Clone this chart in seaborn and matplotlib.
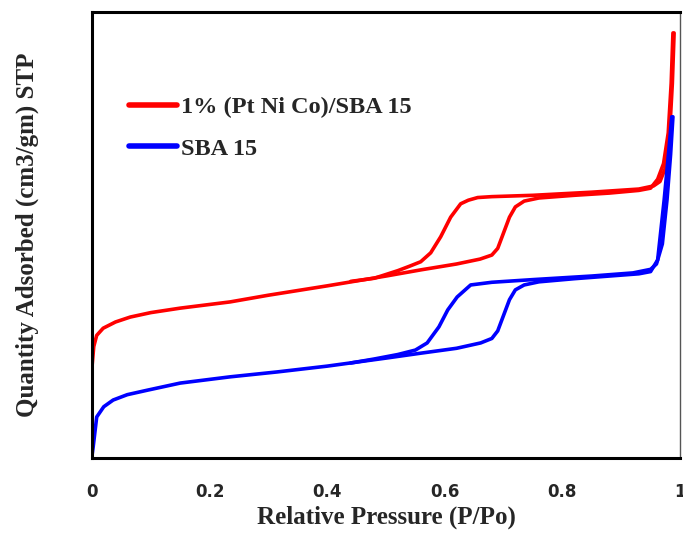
import matplotlib
matplotlib.use("Agg")
import matplotlib.pyplot as plt
import pandas as pd
import seaborn as sns

# Relative pressure / quantity adsorbed (arbitrary units)
red_ads_p = [0.0, 0.003, 0.008, 0.019, 0.04, 0.065, 0.1, 0.15, 0.235, 0.3, 0.4, 0.5,
             0.56, 0.62, 0.66, 0.68, 0.69, 0.70, 0.71, 0.72, 0.735, 0.76, 0.82, 0.88,
             0.93, 0.95, 0.962, 0.972, 0.98, 0.985, 0.988]
red_ads_q = [20.4, 25.0, 27.5, 29.1, 30.5, 31.6, 32.6, 33.6, 35.0, 36.5, 38.6, 40.8,
             42.2, 43.5, 44.6, 45.5, 47.0, 50.5, 54.0, 56.3, 57.6, 58.3, 58.9, 59.4,
             60.0, 60.5, 62.5, 66.0, 72.9, 84.0, 95.3]
red_des_p = [0.99, 0.987, 0.982, 0.975, 0.966, 0.955, 0.93, 0.85, 0.75, 0.68, 0.656,
             0.64, 0.627, 0.61, 0.593, 0.576, 0.559, 0.54, 0.52, 0.48, 0.44]
red_des_q = [95.3, 84.0, 72.0, 65.0, 62.0, 61.0, 60.3, 59.6, 58.9, 58.6, 58.4,
             57.8, 57.0, 54.0, 49.6, 46.0, 44.0, 43.0, 42.0, 40.3, 39.6]

blue_ads_p = [0.0, 0.002, 0.008, 0.02, 0.036, 0.06, 0.094, 0.15, 0.235, 0.315, 0.4,
              0.5, 0.559, 0.62, 0.661, 0.68, 0.69, 0.70, 0.71, 0.72, 0.735, 0.76,
              0.82, 0.88, 0.93, 0.95, 0.962, 0.973, 0.981, 0.986]
blue_ads_q = [0.5, 2.5, 9.2, 11.5, 13.0, 14.2, 15.2, 16.8, 18.2, 19.3, 20.6,
              22.4, 23.5, 24.6, 25.8, 26.8, 28.5, 32.0, 35.5, 37.7, 38.8, 39.5,
              40.2, 40.8, 41.3, 41.8, 44.4, 57.8, 69.0, 76.5]
blue_des_p = [0.988, 0.984, 0.978, 0.97, 0.96, 0.95, 0.92, 0.85, 0.75, 0.68, 0.644,
              0.621, 0.605, 0.59, 0.57, 0.55, 0.52, 0.48, 0.44]
blue_des_q = [76.5, 68.0, 58.0, 48.0, 43.5, 42.3, 41.5, 40.8, 40.0, 39.4, 38.8,
              36.1, 33.2, 29.4, 25.8, 24.2, 23.2, 22.2, 21.3]

labels = ["1% (Pt Ni Co)/SBA 15", "SBA 15"]
colors = ["#ff0000", "#0000ff"]
tick_vals = [0, 0.2, 0.4, 0.6, 0.8, 1]
tick_labels = ["0", "0.2", "0.4", "0.6", "0.8", "1"]

frames = []
for label, branches in zip(labels, [
        [("ads", red_ads_p, red_ads_q), ("des", red_des_p, red_des_q)],
        [("ads", blue_ads_p, blue_ads_q), ("des", blue_des_p, blue_des_q)]]):
    for branch, p, q in branches:
        frames.append(pd.DataFrame({"P": p, "Q": q, "sample": label, "branch": branch}))
df = pd.concat(frames, ignore_index=True)

sns.set_theme(style="white")
plt.rcParams["font.family"] = ["Liberation Serif", "DejaVu Serif"]

fig = plt.figure(figsize=(6.83, 5.33), dpi=100)
ax = fig.add_axes([0.1347, 0.1407, 0.8609, 0.8368])

sns.lineplot(data=df, x="P", y="Q", hue="sample", units="branch", estimator=None,
             sort=False, palette=colors, hue_order=labels, linewidth=2.6, ax=ax)

ax.set_xlim(0, 1)
ax.set_ylim(0, 100)
ax.set_xticks(tick_vals)
ax.set_xticklabels(tick_labels, family="DejaVu Sans", fontweight="bold", fontsize=12)
ax.set_yticks([])
ax.tick_params(axis="x", direction="in", length=4, width=1.5, pad=18, color="black")

for side in ["left", "bottom", "top"]:
    ax.spines[side].set_color("black")
    ax.spines[side].set_linewidth(2.2)
ax.spines["right"].set_color("#555555")
ax.spines["right"].set_linewidth(1.0)

ax.set_xlabel("Relative Pressure (P/Po)", fontsize=18, fontweight="bold", labelpad=3)
ax.set_ylabel("Quantity Adsorbed (cm3/gm) STP", fontsize=18, fontweight="bold",
              labelpad=38)

leg = ax.legend(loc="upper left", bbox_to_anchor=(0.025, 0.86), frameon=False,
                handlelength=2.0, handletextpad=0.15, labelspacing=0.8,
                prop={"family": "Liberation Serif", "weight": "bold", "size": 17.5})
for line in leg.get_lines():
    line.set_linewidth(4)

fig.savefig("out.png", dpi=100)
